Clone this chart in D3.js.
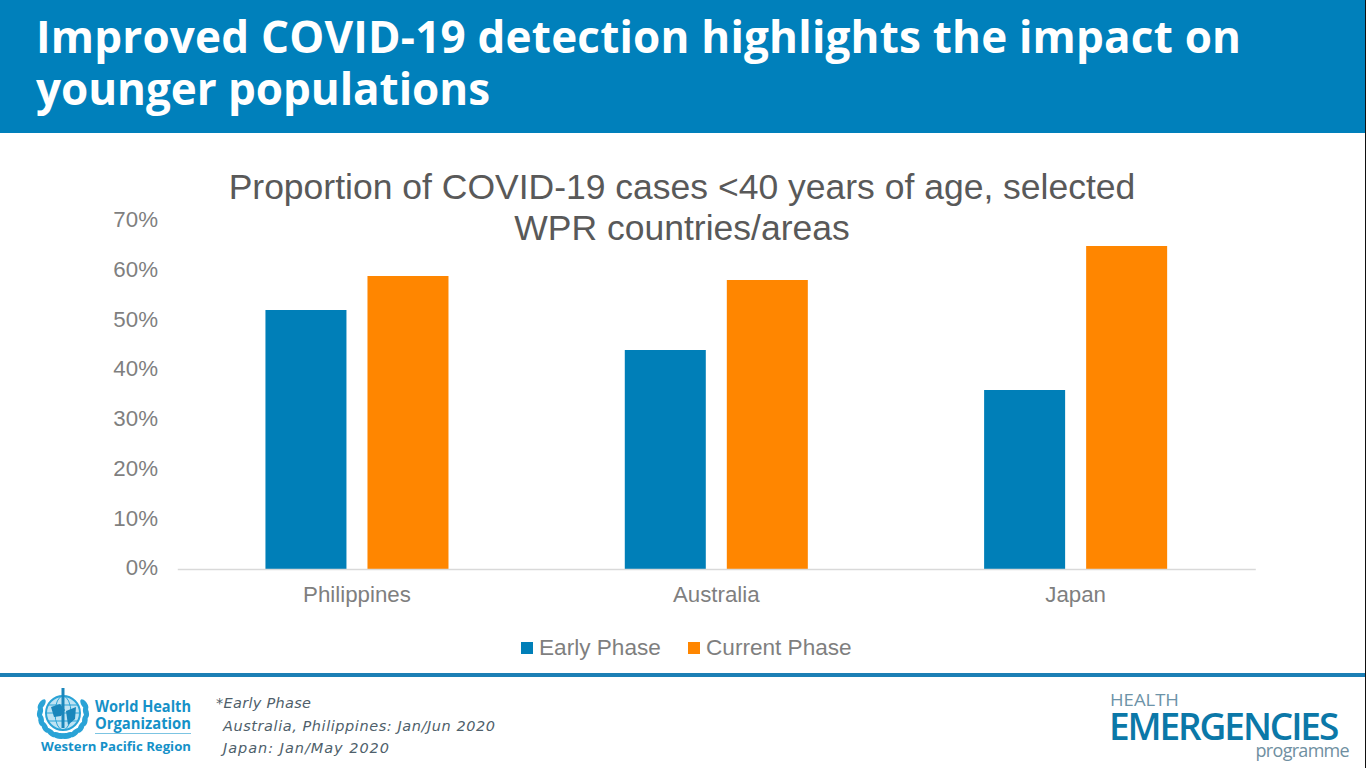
<!DOCTYPE html>
<html>
<head>
<meta charset="utf-8">
<script src="https://cdn.jsdelivr.net/npm/d3@7/dist/d3.min.js"></script>
<style>
	html, body { margin: 0; padding: 0; background: #fff; overflow: hidden; }
	svg { display: block; }
	text { font-family: "Liberation Sans", sans-serif; }
	.head { font-family: "Open Sans", sans-serif; font-weight: 700; font-size: 44px; fill: #fff; }
	.tick-label { font-size: 22.3px; fill: #7f7f7f; }
	.legend-label { font-size: 22.6px; fill: #7f7f7f; }
	.note { font-family: "DejaVu Sans", sans-serif; font-style: italic; font-size: 14.5px; fill: #4f5f6b; }
	.who { font-family: "Open Sans", sans-serif; font-weight: 700; fill: #1591c8; }
	.prog { font-family: "Open Sans", sans-serif; }
</style>
</head>
<body>
<div id="chart"></div>
<script>
var headLines = ['Improved COVID-19 detection highlights the impact on', 'younger populations'];
var chartTitle = ['Proportion of COVID-19 cases <40 years of age, selected', 'WPR countries/areas'];
var categories = ['Philippines', 'Australia', 'Japan'];
var seriesNames = ['Early Phase', 'Current Phase'];
var earlyPhase = [51.8, 43.8, 35.8];
var currentPhase = [58.6, 57.8, 64.6];
var yTicks = [0, 10, 20, 30, 40, 50, 60, 70];
var notes = ['*Early Phase', 'Australia, Philippines: Jan/Jun 2020', 'Japan: Jan/May 2020'];
var colors = ['#007fb8', '#ff8600'];

var svg = d3.select('#chart').append('svg')
	.attr('width', 1366)
	.attr('height', 768);

// Header band
svg.append('rect').attr('width', 1366).attr('height', 133).attr('fill', '#0080bb');
svg.selectAll('.head')
	.data(headLines)
	.enter()
	.append('text')
	.attr('class', 'head')
	.attr('x', 36)
	.attr('y', function(d, i) { return 53 + i * 52; })
	.attr('textLength', function(d, i) { return i === 0 ? 1205 : 454; })
	.text(function(d) { return d; });

// Scales
var x = d3.scaleBand().domain(categories).range([177.3, 1255.3]);
var inner = d3.scaleBand()
	.domain(seriesNames)
	.range([0, x.bandwidth()])
	.paddingInner(0.206)
	.paddingOuter(0.864);
var y = d3.scaleLinear().domain([0, 70]).range([569, 219]);

// Axes
var yAxis = d3.axisLeft(y)
	.tickValues(yTicks)
	.tickSize(0)
	.tickFormat(function(d) { return d + '%'; });
var yG = svg.append('g').attr('transform', 'translate(158,0)').call(yAxis);
yG.select('.domain').remove();
yG.selectAll('text')
	.attr('class', 'tick-label')
	.attr('x', 0)
	.attr('dy', '0.35em')
	// the labels in the slide sit a little tighter than the gridline spacing
	.attr('y', function(d) { return -2 * (1 - d / 70); });

// Bars
var rows = categories.map(function(c, i) {
	return { category: c, values: [earlyPhase[i], currentPhase[i]] };
});
var groups = svg.selectAll('.group')
	.data(rows)
	.enter()
	.append('g')
	.attr('class', 'group')
	.attr('transform', function(d) { return 'translate(' + x(d.category) + ',0)'; });
groups.selectAll('rect')
	.data(function(d) { return d.values; })
	.enter()
	.append('rect')
	.attr('x', function(d, i) { return inner(seriesNames[i]); })
	.attr('width', inner.bandwidth())
	.attr('y', function(d) { return y(d); })
	.attr('height', function(d) { return y(0) - y(d); })
	.attr('fill', function(d, i) { return colors[i]; });

var xAxis = d3.axisBottom(x).tickSize(0);
var xG = svg.append('g').attr('transform', 'translate(0,569)').call(xAxis);
xG.select('.domain').attr('stroke', '#d9d9d9').attr('stroke-width', 1.5);
xG.selectAll('text').attr('class', 'tick-label').attr('y', 25).attr('dy', '0.35em').attr('text-anchor', 'middle');

// Chart title
svg.selectAll('.chart-title')
	.data(chartTitle)
	.enter()
	.append('text')
	.attr('class', 'chart-title')
	.attr('x', 682)
	.attr('y', function(d, i) { return 199 + i * 41; })
	.attr('text-anchor', 'middle')
	.attr('font-size', 35.5)
	.attr('fill', '#595959')
	.text(function(d) { return d; });

// Legend
var legendX = [521, 688];
var legend = svg.selectAll('.legend')
	.data(seriesNames)
	.enter()
	.append('g')
	.attr('class', 'legend')
	.attr('transform', function(d, i) { return 'translate(' + legendX[i] + ',642)'; });
legend.append('rect')
	.attr('width', 12)
	.attr('height', 12)
	.attr('fill', function(d, i) { return colors[i]; });
legend.append('text')
	.attr('class', 'legend-label')
	.attr('x', 18)
	.attr('y', 5)
	.attr('dy', '0.35em')
	.text(function(d) { return d; });

// Footer rule and notes
svg.append('rect').attr('y', 673).attr('width', 1366).attr('height', 4).attr('fill', '#1c7fb5');
svg.selectAll('.note')
	.data(notes)
	.enter()
	.append('text')
	.attr('class', 'note')
	.attr('x', function(d, i) { return i === 0 ? 216 : 223; })
	.attr('y', function(d, i) { return 708 + i * 22.5; })
	.attr('textLength', function(d, i) { return [95, 272, 166][i]; })
	.text(function(d) { return d; });

// WHO emblem, simplified: globe, staff and a wreath of leaves
var logoBlue = '#2aa3d6';
var emblem = svg.append('g').attr('transform', 'translate(63,713)');
emblem.append('circle').attr('r', 17).attr('fill', '#bfe3f3').attr('stroke', logoBlue).attr('stroke-width', 2);
emblem.append('ellipse').attr('rx', 8).attr('ry', 17).attr('fill', 'none').attr('stroke', logoBlue);
emblem.append('path').attr('d', 'M-17,0H17M-15,-8H15M-15,8H15').attr('stroke', logoBlue);
emblem.append('path').attr('d', 'M-12,-6L-3,-9L2,-3L-2,3L-9,4Z M3,-2L13,-6L12,6L5,12Z').attr('fill', '#1a86bb');
emblem.append('path').attr('d', 'M0,-25V15').attr('stroke', '#1a86bb').attr('stroke-width', 3);
[-1, 1].forEach(function(side) {
	d3.range(7).forEach(function(i) {
		var a = (-22 + i * 20) * Math.PI / 180;
		emblem.append('ellipse')
			.attr('rx', 2.8)
			.attr('ry', 6)
			.attr('fill', logoBlue)
			.attr('transform', 'translate(' + (side * 23 * Math.cos(a)) + ',' + (23 * Math.sin(a)) + ') rotate(' + (side * (a * 180 / Math.PI - 12)) + ')');
	});
});

svg.append('text').attr('class', 'who').attr('x', 95).attr('y', 712)
	.attr('font-size', 15.5)
	.attr('textLength', 96).attr('lengthAdjust', 'spacingAndGlyphs').text('World Health');
svg.append('text').attr('class', 'who').attr('x', 95).attr('y', 729)
	.attr('font-size', 15.5)
	.attr('textLength', 96).attr('lengthAdjust', 'spacingAndGlyphs').text('Organization');
svg.append('rect').attr('x', 95).attr('y', 733).attr('width', 96).attr('height', 1).attr('fill', '#7cc4e2');
svg.append('text').attr('class', 'who').attr('x', 41).attr('y', 751)
	.attr('font-size', 13)
	.attr('textLength', 150).attr('lengthAdjust', 'spacingAndGlyphs').text('Western Pacific Region');

// Programme logo
svg.append('text').attr('class', 'prog').attr('x', 1110).attr('y', 706)
	.attr('font-size', 16.5).attr('fill', '#6d93a8')
	.attr('textLength', 69).attr('lengthAdjust', 'spacingAndGlyphs').text('HEALTH');
svg.append('text').attr('class', 'prog').attr('x', 1109).attr('y', 740)
	.attr('font-size', 37).attr('font-weight', 600).attr('fill', '#0b78a8')
	.attr('letter-spacing', -2.1).text('EMERGENCIES');
svg.append('text').attr('class', 'prog').attr('x', 1349).attr('y', 757).attr('text-anchor', 'end')
	.attr('font-size', 18).attr('fill', '#6f8fa1')
	.attr('letter-spacing', -0.7).text('programme');

// Dark sliver along the right edge of the capture
svg.append('rect').attr('x', 1365).attr('width', 1).attr('height', 768).attr('fill', '#111');
</script>
</body>
</html>
